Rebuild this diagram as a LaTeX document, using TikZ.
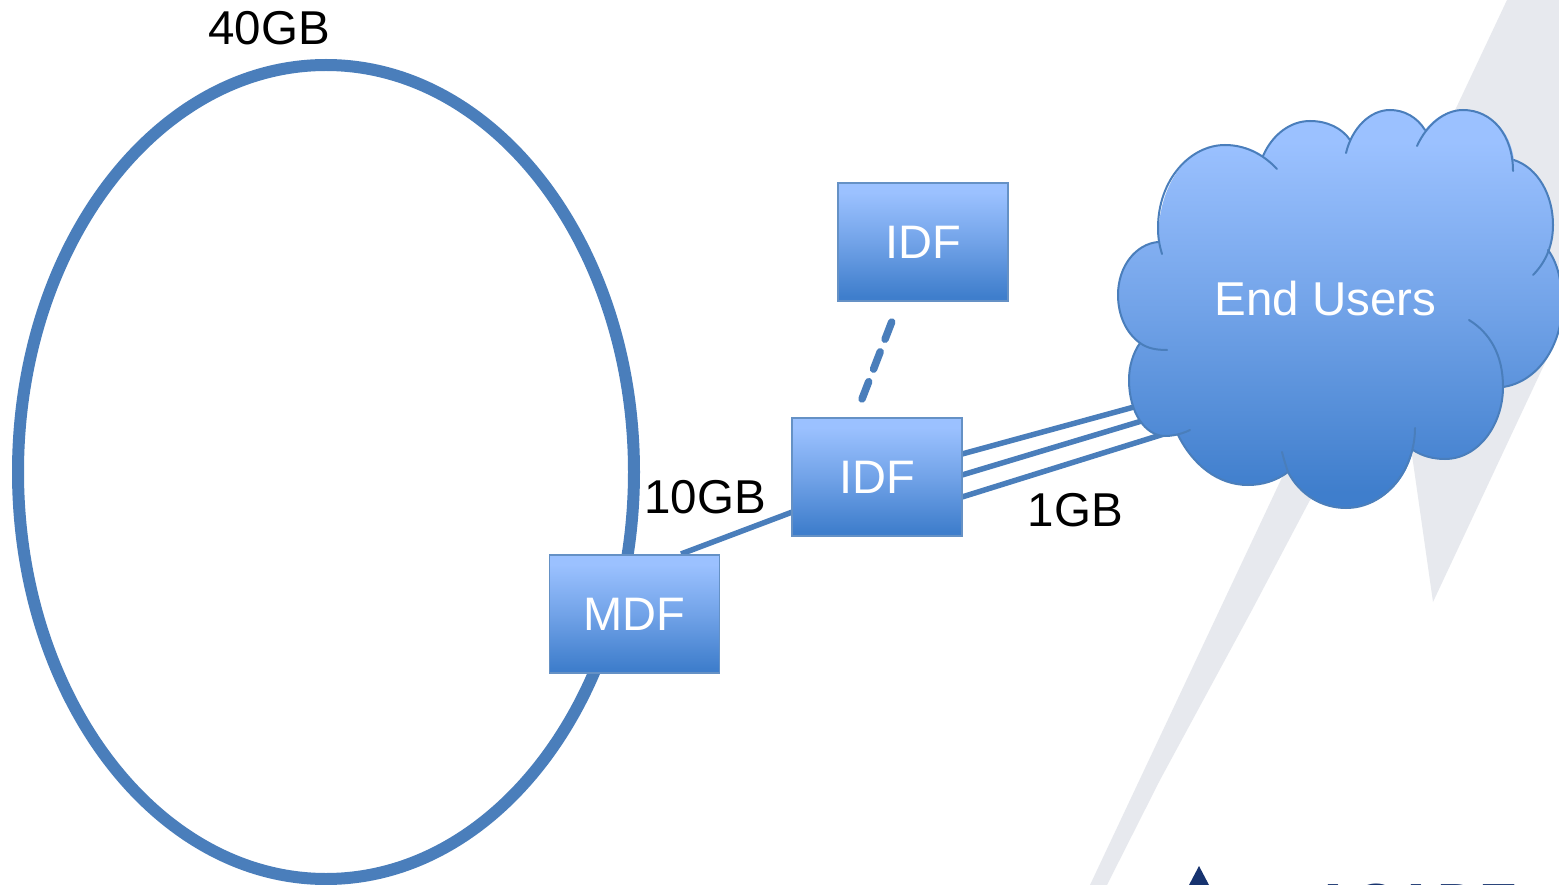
\documentclass[tikz,border=0pt]{standalone}
\usepackage{fontspec}
\setmainfont{Liberation Sans}
\usetikzlibrary{shadings}
\definecolor{lineblue}{HTML}{4A7EBB}
\definecolor{topblue}{HTML}{9BC1FF}
\definecolor{botblue}{HTML}{3F7ECC}
\definecolor{wash}{HTML}{E7E9EE}
\definecolor{navy}{HTML}{17336F}
\pgfdeclareverticalshading{boxshade}{100bp}{color(0bp)=(botblue);color(27bp)=(botblue);color(50bp)=(botblue!45!topblue);color(71bp)=(topblue);color(100bp)=(topblue)}
\tikzset{
  x=1pt,y=-1pt,
  box/.style={rectangle,minimum width=170pt,minimum height=118pt,inner sep=0pt,draw=lineblue!85,line width=1.6pt,shading=boxshade,text=white,font=\fontsize{47}{47}\selectfont},
  label/.style={inner sep=0pt,text=black,font=\fontsize{47.5}{47.5}\selectfont},
  link/.style={draw=lineblue,line width=5.5pt},
  dashlink/.style={draw=lineblue,line width=7.5pt,line cap=round,dash pattern=on 18.5pt off 13.5pt},
  ring/.style={draw=lineblue,line width=12pt},
  cloudline/.style={draw=lineblue,line width=2pt,line cap=round},
}
\begin{document}
\begin{tikzpicture}
\useasboundingbox (0,0) rectangle (1559,885);
\begin{scope}
\clip (0,0) rectangle (1559,885);
\fill[white] (0,0) rectangle (1559,885);
% background watermark
\fill[wash] (1507,0) -- (1559,0) -- (1559,333) -- (1433,602) -- (1412,455) -- (1310,500) -- (1252,610) -- (1160,780) -- (1107,885) -- (1090,885) -- cycle;
\fill[navy] (1199,866) -- (1209,885) -- (1189,885) -- cycle;
\node[anchor=base west,inner sep=0pt,text=navy,font=\fontsize{58}{58}\selectfont\bfseries] (logo) at (1312,924) {ACADE};

% ring
\draw[ring] (326,472) ellipse [x radius=308,y radius=407];

% connectors (under the nodes)
\coordinate (dashA) at (891.7,322);
\coordinate (dashB) at (862,399);
\coordinate (u1) at (1145,404);
\coordinate (u2) at (1155,417);
\coordinate (u3) at (1180,429);
\coordinate (p1) at (962,454);
\coordinate (p2) at (962,475);
\coordinate (p3) at (962,497);
\coordinate (m1) at (681,554);
\coordinate (m2) at (795,511);
\draw[link] (m1) -- (m2);
\draw[dashlink] (dashA) -- (dashB);
\draw[link] (p1) -- (u1);
\draw[link] (p2) -- (u2);
\draw[link] (p3) -- (u3);

% cloud fill
\path[shading=boxshade]
  (1158,242)
  .. controls (1158,180) and (1190,145) .. (1225,145)
  .. controls (1240,145) and (1253,148) .. (1263,156)
  .. controls (1272,135) and (1290,121) .. (1310,121)
  .. controls (1327,121) and (1342,128) .. (1350,140)
  .. controls (1358,122) and (1372,110) .. (1390,110)
  .. controls (1404,110) and (1417,117) .. (1425,130)
  .. controls (1434,118) and (1447,110) .. (1463,110)
  .. controls (1490,110) and (1510,130) .. (1514,160)
  .. controls (1538,168) and (1553,195) .. (1553,225)
  .. controls (1553,234) and (1551,242) .. (1548,250)
  .. controls (1557,262) and (1562,280) .. (1562,305)
  .. controls (1562,345) and (1538,382) .. (1503,387)
  .. controls (1503,425) and (1478,459) .. (1445,459)
  .. controls (1433,459) and (1422,456) .. (1413,450)
  .. controls (1405,485) and (1378,508) .. (1346,508)
  .. controls (1322,508) and (1300,495) .. (1288,472)
  .. controls (1276,481) and (1262,485) .. (1248,485)
  .. controls (1218,485) and (1193,465) .. (1178,435)
  -- (1165,436)
  .. controls (1145,436) and (1129,412) .. (1129,380)
  .. controls (1129,366) and (1133,353) .. (1140,343)
  .. controls (1126,333) and (1118,315) .. (1118,295)
  .. controls (1118,266) and (1136,244) .. (1158,242)
  -- cycle;
% cloud outline, with the inner tails of its lobes
\draw[cloudline]
  (1162,254) .. controls (1160,247) and (1158,240) .. (1158,228)
  .. controls (1158,180) and (1190,145) .. (1225,145)
  .. controls (1245,145) and (1263,154) .. (1277,169);
\draw[cloudline]
  (1263,156) .. controls (1272,135) and (1290,121) .. (1310,121)
  .. controls (1327,121) and (1342,128) .. (1350,140);
\draw[cloudline]
  (1346,153) .. controls (1352,128) and (1370,110) .. (1390,110)
  .. controls (1404,110) and (1417,117) .. (1425,130);
\draw[cloudline]
  (1417,146) .. controls (1427,124) and (1445,110) .. (1463,110)
  .. controls (1492,110) and (1513,135) .. (1513,171);
\draw[cloudline]
  (1514,160) .. controls (1538,168) and (1553,195) .. (1553,225)
  .. controls (1553,245) and (1546,262) .. (1533,275);
\draw[cloudline]
  (1548,250) .. controls (1557,262) and (1562,280) .. (1562,305)
  .. controls (1562,345) and (1538,382) .. (1503,387);
\draw[cloudline]
  (1469,320) .. controls (1490,333) and (1503,355) .. (1503,387)
  .. controls (1503,425) and (1478,459) .. (1445,459)
  .. controls (1433,459) and (1422,456) .. (1413,450);
\draw[cloudline]
  (1415,428) .. controls (1415,470) and (1385,508) .. (1346,508)
  .. controls (1322,508) and (1300,495) .. (1288,472);
\draw[cloudline]
  (1282,452) .. controls (1284,460) and (1286,466) .. (1288,472)
  .. controls (1276,481) and (1262,485) .. (1248,485)
  .. controls (1218,485) and (1193,465) .. (1178,435);
\draw[cloudline]
  (1190,430) .. controls (1180,435) and (1170,436) .. (1165,436)
  .. controls (1145,436) and (1129,412) .. (1129,380)
  .. controls (1129,366) and (1133,353) .. (1140,343);
\draw[cloudline]
  (1167,350) .. controls (1155,350) and (1147,348) .. (1140,343)
  .. controls (1126,333) and (1118,315) .. (1118,295)
  .. controls (1118,266) and (1136,244) .. (1158,242);

% nodes
\node[box] (idfTop) at (923,242) {IDF};
\node[box] (idfLow) at (877,477) {IDF};
\node[box] (mdf) at (634.5,614) {MDF};
\node[inner sep=0pt,text=white,font=\fontsize{47.5}{47.5}\selectfont] (users) at (1325.5,299) {End Users};
\node[label] (l40) at (269,28) {40GB};
\node[label] (l10) at (705,497) {10GB};
\node[label] (l1) at (1075.5,510) {1GB};
\end{scope}
\end{tikzpicture}
\end{document}
